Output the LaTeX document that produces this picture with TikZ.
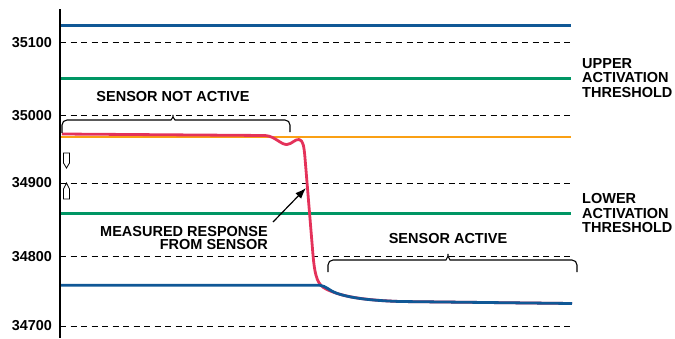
\documentclass[tikz,border=0pt]{standalone}
\usepackage{fontspec}
\setmainfont{Liberation Sans}
\usetikzlibrary{arrows.meta}
\definecolor{lvlblue}{RGB}{16,88,150}
\definecolor{lvlgreen}{RGB}{0,150,100}
\definecolor{lvlorange}{RGB}{250,160,20}
\definecolor{respred}{RGB}{228,50,90}
\tikzset{
  grid/.style={black, line width=0.8pt, dash pattern=on 6pt off 4.5pt},
  level/.style={line width=2.8pt},
  ylab/.style={anchor=east, inner sep=0pt, font=\fontsize{14.4}{14.4}\selectfont\bfseries},
  note/.style={inner sep=0pt, font=\fontsize{14.5}{14.4}\selectfont\bfseries},
  bracket/.style={black, line width=1.1pt, rounded corners=5pt},
  marker/.style={black, line width=0.8pt, fill=white},
}
\begin{document}
\begin{tikzpicture}[x=1pt, y=-1pt]
\useasboundingbox (0,0) rectangle (675,338);

% dashed grid lines with value labels
\foreach \yy/\val/\nm in {42.7/35100/a, 115.7/35000/b, 183/34900/c, 256.7/34800/d, 326/34700/e}{
  \coordinate (gl\nm) at (60,\yy);
  \coordinate (gr\nm) at (571,\yy);
  \draw[grid] (gl\nm) -- (gr\nm);
  \node[ylab] (lab\nm) at (52,\yy) {\val};
}

% reference levels
\coordinate (bt1) at (60,25.3);   \coordinate (bt2) at (571,25.3);
\coordinate (ut1) at (60,78.3);   \coordinate (ut2) at (571,78.3);
\coordinate (or1) at (60,137);    \coordinate (or2) at (571,137);
\coordinate (lt1) at (60,213.3);  \coordinate (lt2) at (571,213.3);
\coordinate (bb1) at (60,285.3);
\draw[level, lvlblue]   (bt1) -- (bt2);
\draw[level, lvlgreen]  (ut1) -- (ut2);
\draw[level, lvlorange] (or1) -- (or2);
\draw[level, lvlgreen]  (lt1) -- (lt2);

% measured response of the sensor
\draw[level, respred, line join=round]
  (62,134) -- (265,135.5)
  .. controls (275,136) and (281,145) .. (287,144.5)
  .. controls (292,144) and (295,139) .. (299,139.5)
  .. controls (303,140) and (304,146) .. (305,158)
  -- (313,255)
  .. controls (315,278) and (318,285) .. (326,289)
  .. controls (340,296) and (360,300) .. (400,301.5)
  -- (572,303.5);

% lower baseline level joining the settled response
\draw[level, lvlblue, line join=round]
  (bb1) -- (320,285.3)
  .. controls (326,286) and (330,291) .. (336,293)
  .. controls (350,298) and (370,300.5) .. (400,301.5)
  -- (572,303.5);

% vertical axis
\coordinate (ax1) at (60,9);
\coordinate (ax2) at (60,338);
\draw[black, line width=1.6pt] (ax1) -- (ax2);

% small markers on the axis
\draw[marker] (63.5,153) -- (69.5,153) -- (69.5,163) -- (66.5,168) -- (63.5,163) -- cycle;
\draw[marker] (63.5,199) -- (69.5,199) -- (69.5,189) -- (66.5,183) -- (63.5,189) -- cycle;

% brackets
\draw[bracket] (62,133) -- (62,120) -- (166,120)
  .. controls (171,120) and (173,117) .. (173,112)
  .. controls (173,117) and (175,120) .. (180,120)
  -- (290,120) -- (290,132);
\draw[bracket] (328,272) -- (328,260) -- (441,260)
  .. controls (446,260) and (448,256) .. (448,251)
  .. controls (448,256) and (450,260) .. (455,260)
  -- (577,260) -- (577,272);

% annotations
\node[note] (notact) at (173,96.7) {SENSOR NOT ACTIVE};
\node[note] (act) at (448,239) {SENSOR ACTIVE};
\node[note, anchor=north west, align=left] (upper) at (582,58.3)
  {UPPER\\ACTIVATION\\THRESHOLD};
\node[note, anchor=north west, align=left] (lower) at (582,193.3)
  {LOWER\\ACTIVATION\\THRESHOLD};
\node[note, anchor=north east, align=right, font=\fontsize{14.5}{13}\selectfont\bfseries]
  (meas) at (268,226) {MEASURED RESPONSE\\FROM SENSOR};

% pointer to the response curve
\coordinate (ptail) at (273,222);
\coordinate (phead) at (306,188);
\draw[black, line width=1.2pt, -{Latex[length=11pt,width=8pt]}] (ptail) -- (phead);
\end{tikzpicture}
\end{document}
